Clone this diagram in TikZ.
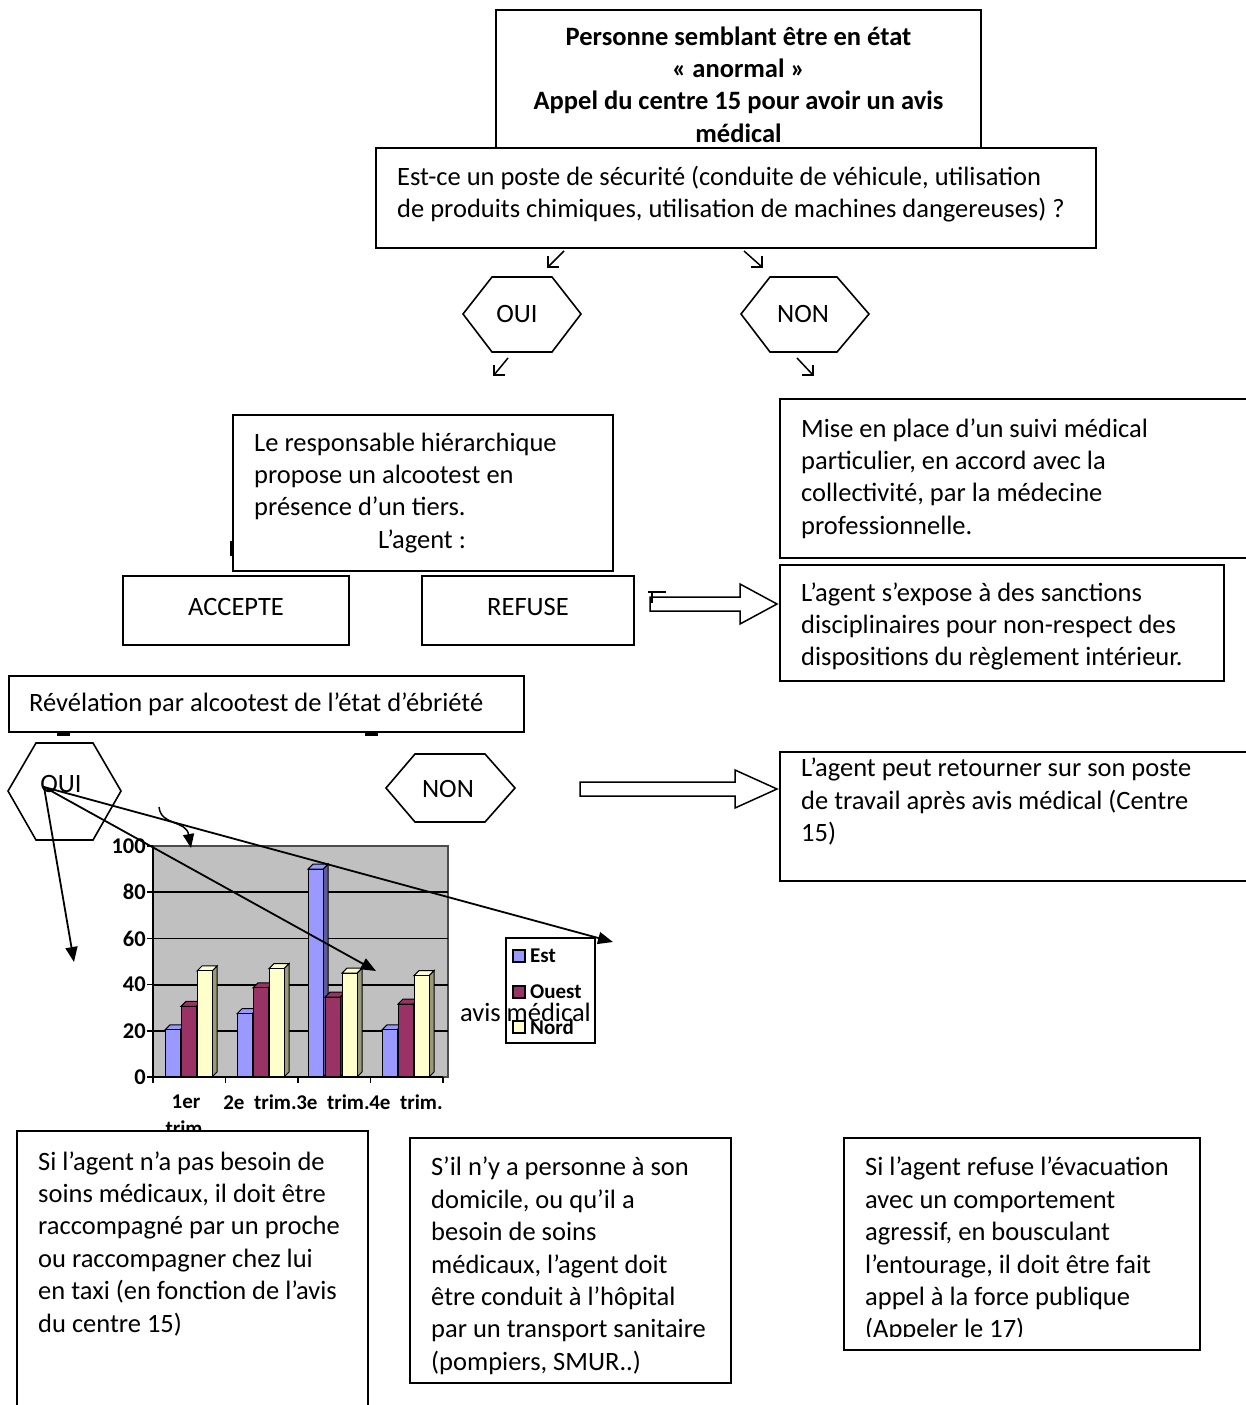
\documentclass[tikz,border=0pt]{standalone}
\usepackage{fontspec}
\setmainfont{Carlito}
\usetikzlibrary{arrows.meta}
\definecolor{est}{HTML}{9999FF}
\definecolor{estd}{HTML}{5C5C99}
\definecolor{ouest}{HTML}{993366}
\definecolor{ouestd}{HTML}{5C1F3D}
\definecolor{nord}{HTML}{FFFFCC}
\definecolor{nordd}{HTML}{99997A}
\definecolor{plotgray}{HTML}{C0C0C0}
\newcommand\bodyf{\fontsize{26.5}{32.4}\selectfont}
\newcommand\chf{\fontsize{22.5}{25}\selectfont\bfseries}
\newcommand\legf{\fontsize{21}{24}\selectfont\bfseries}
\newcommand\cbar[4]{%
  \pgfmathsetmacro\cbtop{1077-2.31*#2}%
  \filldraw[fill=#4, draw=black, line width=1pt] (#1+15,1077) -- (#1+20,1072) -- (#1+20,\cbtop-5) -- (#1+15,\cbtop) -- cycle;
  \filldraw[fill=#3, draw=black, line width=1pt] (#1,\cbtop) -- (#1+5,\cbtop-5) -- (#1+20,\cbtop-5) -- (#1+15,\cbtop) -- cycle;
  \filldraw[fill=#3, draw=black, line width=1pt] (#1,1077) rectangle (#1+15,\cbtop);
}
\begin{document}
\begin{tikzpicture}[x=1pt,y=-1pt,
  box/.style={draw, line width=1.6pt, fill=white, inner sep=0pt, outer sep=0pt, anchor=north west},
  txt/.style={anchor=north west, inner sep=0pt, align=left, font=\bodyf},
  lbl/.style={inner sep=0pt, font=\bodyf},
  hexa/.style={draw, line width=1.6pt, fill=white},
  arr/.style={line width=1.8pt, -{Triangle[length=15pt,width=12pt]}},
  barrow/.style={draw, line width=1.5pt, fill=white},
  glyph/.style={line width=1.5pt},
  chl/.style={inner sep=0pt, font=\chf},
  legl/.style={inner sep=0pt, font=\legf}]
\useasboundingbox (0,0) rectangle (1246,1405);
\fill[white] (0,0) rectangle (1246,1405);
\clip (0,0) rectangle (1246,1405);

% ---- top boxes
\node[box, minimum width=485pt, minimum height=138pt] (top) at (496,10) {};
\node[anchor=north, inner sep=0pt, align=center, font=\bodyf\bfseries] (toptxt) at (738.5,22.3)
  {\strut Personne semblant être en état\\ « anormal »\\ Appel du centre 15 pour avoir un avis\\ médical};
\node[box, minimum width=720pt, minimum height=100pt] (secu) at (376,148) {};
\node[txt] (secutxt) at (397,162.3) {\strut Est-ce un poste de sécurité (conduite de véhicule, utilisation\\ de produits chimiques, utilisation de machines dangereuses) ?};

% ---- small glyph arrows
\draw[glyph] (564,251) -- (548,267); \draw[glyph] (548,256) -- (548,267) -- (559,267);
\draw[glyph] (744,251) -- (762,267); \draw[glyph] (762,256) -- (762,267) -- (751,267);
\draw[glyph] (508,358) -- (494,375); \draw[glyph] (494,365) -- (494,375) -- (505,375);
\draw[glyph] (797,358) -- (813,375); \draw[glyph] (813,365) -- (813,375) -- (802,375);

% ---- hexagons OUI / NON (first level)
\draw[hexa] (463,314) -- (492,277) -- (552,277) -- (581,314) -- (552,352) -- (492,352) -- cycle;
\node[lbl] (oui1) at (517,314) {OUI};
\draw[hexa] (741,314) -- (770,277) -- (837,277) -- (869,314) -- (837,352) -- (770,352) -- cycle;
\node[lbl] (non1) at (803,314) {NON};

% ---- responsable
\draw[line width=1.8pt] (231,541) -- (231,556);
\node[box, minimum width=380pt, minimum height=156pt] (resp) at (233,415) {};
\node[txt] (resptxt) at (254,428.3) {\strut Le responsable hiérarchique\\ propose un alcootest en\\ présence d’un tiers.\\ \hspace*{124pt}L’agent :};
\node[box, minimum width=226pt, minimum height=69pt] (acc) at (123,576) {};
\node[lbl] at (236,607) {ACCEPTE};
\node[box, minimum width=212pt, minimum height=69pt] (ref) at (422,576) {};
\node[lbl] at (528,607) {REFUSE};

% ---- right boxes
\node[box, minimum width=470pt, minimum height=159pt] (mise) at (780,399) {};
\node[txt] (misetxt) at (801,414.3) {\strut Mise en place d’un suivi médical\\ particulier, en accord avec la\\ collectivité, par la médecine\\ professionnelle.};
\node[box, minimum width=444pt, minimum height=116pt] (expo) at (780,565) {};
\node[txt] (expotxt) at (801,578.3) {\strut L’agent s’expose à des sanctions\\ disciplinaires pour non-respect des\\ dispositions du règlement intérieur.};

% ---- block arrow 1
\draw[barrow] (650,597) -- (740,597) -- (740,584) -- (777,604) -- (740,624) -- (740,611) -- (650,611) -- cycle;
\draw[line width=1.3pt] (648,592) -- (666,592);
\draw[line width=1.3pt] (652,592) -- (652,603);

% ---- revelation
\node[box, minimum width=515pt, minimum height=56pt] (revel) at (9,676) {};
\node[txt] (reveltxt) at (29,688.3) {\strut Révélation par alcootest de l’état d’ébriété};
\draw[line width=3pt] (57,734) -- (70,734);
\draw[line width=3pt] (365,734) -- (378,734);

% ---- second level hexagons
\draw[hexa] (8,791) -- (36,743) -- (93,743) -- (121,791) -- (93,840) -- (36,840) -- cycle;
\node[lbl] (oui2) at (61,784) {OUI};
\draw[hexa] (386,788) -- (415,754) -- (485,754) -- (515,788) -- (485,822) -- (415,822) -- cycle;
\node[lbl] (non2) at (448,789) {NON};

% ---- block arrow 2
\draw[barrow] (580,782) -- (735,782) -- (735,770) -- (777,789) -- (735,808) -- (735,796) -- (580,796) -- cycle;
\node[box, minimum width=470pt, minimum height=129pt] (retour) at (780,752) {};
\node[txt] (retourtxt) at (801,754) {\strut L’agent peut retourner sur son poste\\ de travail après avis médical (Centre\\ 15)};

% ---- chart
\filldraw[fill=plotgray, draw=gray!60!black, line width=1.2pt] (153,846) rectangle (448,1077);
\foreach \v in {20,40,60,80} \draw[line width=1.8pt] (153,1077-2.31*\v) -- (448,1077-2.31*\v);
\cbar{165}{20.4}{est}{estd}\cbar{181}{30.6}{ouest}{ouestd}\cbar{197}{45.9}{nord}{nordd}
\cbar{237}{27.4}{est}{estd}\cbar{253}{38.6}{ouest}{ouestd}\cbar{269}{46.9}{nord}{nordd}
\cbar{308}{90}{est}{estd}\cbar{325}{34.6}{ouest}{ouestd}\cbar{342}{45}{nord}{nordd}
\cbar{382}{20.4}{est}{estd}\cbar{398}{31.6}{ouest}{ouestd}\cbar{414}{43.9}{nord}{nordd}
\draw[line width=1.8pt] (153,846) -- (153,1077);
\draw[line width=1.8pt] (147,1077) -- (443,1077);
\foreach \v in {0,20,...,100} {
  \draw[line width=1.5pt] (147,1077-2.31*\v) -- (153,1077-2.31*\v);
  \node[chl, anchor=east] at (146,1077-2.31*\v) {\v};
}
\foreach \x in {153,225.5,298,370.5,443} \draw[line width=1.5pt] (\x,1077) -- (\x,1083);
\node[legl] (c1) at (186,1102) {1er};
\node[legl] (c1b) at (184,1128) {trim};
\node[legl] (c2) at (260,1102) {2e\ \ trim.};
\node[legl] (c3) at (333,1102) {3e\ \ trim.};
\node[legl] (c4) at (406,1102) {4e\ \ trim.};

% legend
\node[box, minimum width=89pt, minimum height=105pt, line width=1.5pt] (legend) at (506,938) {};
\filldraw[fill=est, line width=1.2pt] (513,950) rectangle (525,962);
\node[legl, anchor=west] at (530,956) {Est};
\filldraw[fill=ouest, line width=1.2pt] (513,986) rectangle (525,998);
\node[legl, anchor=west] at (530,992) {Ouest};
\filldraw[fill=nord, line width=1.2pt] (513,1021) rectangle (525,1033);
\node[legl, anchor=west] at (530,1027) {Nord};
\node[lbl, anchor=base east] (avis) at (591,1021) {avis médical};

% ---- arrows from OUI
\coordinate (o2) at (44,787);
\coordinate (ta) at (74,962);
\coordinate (tb) at (376,971);
\coordinate (tc) at (613,942);
\draw[arr] (o2) -- (ta);
\draw[arr] (o2) -- (tb);
\draw[arr] (o2) -- (tc);
\coordinate (cs) at (159,807);
\coordinate (ce) at (191,848);
\draw[line width=1.5pt, -{Triangle[length=14pt,width=11pt]}] (cs) .. controls (161,826) and (186,820) .. (ce);

% ---- bottom boxes
\node[box, minimum width=351pt, minimum height=290pt] (boxA) at (17,1131) {};
\node[txt] (boxAtxt) at (38,1147.3) {\strut Si l’agent n’a pas besoin de\\ soins médicaux, il doit être\\ raccompagné par un proche\\ ou raccompagner chez lui\\ en taxi (en fonction de l’avis\\ du centre 15)};
\node[box, minimum width=321pt, minimum height=245pt] (boxB) at (410,1138) {};
\node[txt] (boxBtxt) at (431,1153) {\strut S’il n’y a personne à son\\ domicile, ou qu’il a\\ besoin de soins\\ médicaux, l’agent doit\\ être conduit à l’hôpital\\ par un transport sanitaire\\ (pompiers, SMUR..)};
\node[box, minimum width=356pt, minimum height=212pt] (boxC) at (844,1138) {};
\begin{scope}
\clip (844,1138) rectangle (1200,1336);
\node[txt] (boxCtxt) at (865,1153) {\strut Si l’agent refuse l’évacuation\\ avec un comportement\\ agressif, en bousculant\\ l’entourage, il doit être fait\\ appel à la force publique\\ (Appeler le 17)};
\end{scope}
\end{tikzpicture}
\end{document}
